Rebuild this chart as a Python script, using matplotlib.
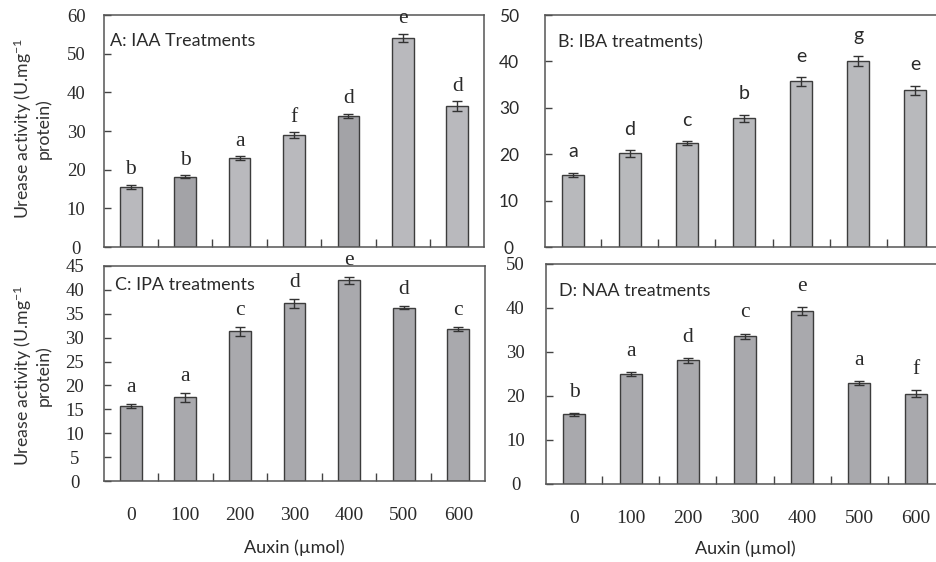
"""Urease activity under four auxin treatments, one bar panel per auxin."""
import matplotlib
matplotlib.use("Agg")
import matplotlib.pyplot as plt  # noqa: E402
import numpy as np               # noqa: E402

plt.rcParams["mathtext.fontset"] = "custom"
plt.rcParams["mathtext.rm"] = "Lato"
plt.rcParams["mathtext.default"] = "regular"

SANS = "Lato"
SERIF = "Liberation Serif"

conc = ["0", "100", "200", "300", "400", "500", "600"]

iaa_mean = [15.6, 18.2, 23.0, 29.0, 33.9, 54.0, 36.5]
iaa_err = [0.5, 0.3, 0.5, 0.7, 0.5, 1.1, 1.2]
iaa_letters = ["b", "b", "a", "f", "d", "e", "d"]

iba_mean = [15.5, 20.2, 22.4, 27.7, 35.7, 40.1, 33.8]
iba_err = [0.5, 0.7, 0.4, 0.8, 0.9, 1.0, 1.0]
iba_letters = ["a", "d", "c", "b", "e", "g", "e"]

ipa_mean = [15.7, 17.5, 31.3, 37.2, 42.0, 36.3, 31.8]
ipa_err = [0.5, 0.9, 1.0, 0.9, 0.8, 0.3, 0.5]
ipa_letters = ["a", "a", "c", "d", "e", "d", "c"]

naa_mean = [15.8, 25.0, 28.1, 33.6, 39.4, 22.9, 20.5]
naa_err = [0.4, 0.5, 0.6, 0.6, 0.9, 0.4, 0.8]
naa_letters = ["b", "a", "d", "c", "e", "a", "f"]

W, H = 936, 562

# panel boxes in pixels: left, right, top, bottom
PANELS = [
    dict(title="A: IAA Treatments", mean=iaa_mean, err=iaa_err, letters=iaa_letters,
         box=(104, 484, 15, 247), ymax=60, ystep=10, tickfont=SERIF, letterfont=SERIF,
         letter_pad=4, ytick_pad=20, colors=["#b9b9bd", "#a3a3a7", "#b9b9bd", "#b9b9bd",
                                              "#a3a3a7", "#b9b9bd", "#b9b9bd"],
         title_xy=(0.016, 0.888), xlabels=False, ylabel=True),
    dict(title="B: IBA treatments)", mean=iba_mean, err=iba_err, letters=iba_letters,
         box=(545, 943, 15, 247), ymax=50, ystep=10, tickfont=SANS, letterfont=SANS,
         letter_pad=9, ytick_pad=26, colors=["#b8b9bc"] * 7,
         title_xy=(0.033, 0.884), xlabels=False, ylabel=False),
    dict(title="C: IPA treatments", mean=ipa_mean, err=ipa_err, letters=ipa_letters,
         box=(104, 485, 266, 481), ymax=45, ystep=5, tickfont=SERIF, letterfont=SERIF,
         letter_pad=5, ytick_pad=21, colors=["#a9a9ad"] * 7,
         title_xy=(0.029, 0.91), xlabels=True, ylabel=True),
    dict(title="D: NAA treatments", mean=naa_mean, err=naa_err, letters=naa_letters,
         box=(546, 944, 264, 484), ymax=50, ystep=10, tickfont=SERIF, letterfont=SERIF,
         letter_pad=8, ytick_pad=22, colors=["#a9a9ad"] * 7,
         title_xy=(0.033, 0.877), xlabels=True, ylabel=False),
]


def draw_panel(fig, p):
    l, r, t, b = p["box"]
    ax = fig.add_axes([l / W, 1 - b / H, (r - l) / W, (b - t) / H])
    x = np.arange(len(conc))
    ax.bar(x, p["mean"], width=0.4, color=p["colors"], edgecolor="#3c3c3c", linewidth=1.0,
           zorder=2)
    ax.errorbar(x, p["mean"], yerr=p["err"], fmt="none", ecolor="#333333", elinewidth=1.0,
                capsize=3.5, capthick=1.0, zorder=3)
    for xi, m, e, lab in zip(x, p["mean"], p["err"], p["letters"]):
        ax.annotate(lab, (xi, m + e), xytext=(0, p["letter_pad"]), textcoords="offset points",
                    ha="center", va="bottom", fontsize=15.5 if p["letterfont"] == SERIF else 14,
                    family=p["letterfont"], color="#2a2a2a")

    ax.set_xlim(-0.49, len(conc) - 0.51)
    ax.set_ylim(0, p["ymax"])
    ax.set_yticks(np.arange(0, p["ymax"] + 1, p["ystep"]))
    ax.set_xticks(x)
    ax.set_xticks(x[:-1] + 0.5, minor=True)
    ax.tick_params(axis="x", which="major", length=0, pad=19, labelsize=14,
                   labelcolor="#2a2a2a")
    ax.tick_params(axis="x", which="minor", direction="in", length=6, width=1.0,
                   color="#444444")
    ax.tick_params(axis="y", direction="in", length=5, width=1.0, color="#444444",
                   pad=p["ytick_pad"], labelsize=13.5 if p["tickfont"] == SERIF else 12.5,
                   labelcolor="#2a2a2a")
    if p["xlabels"]:
        ax.set_xticklabels(conc, family=SERIF)
        ax.set_xlabel("Auxin (µmol)", family=SANS, fontsize=13, color="#2a2a2a")
        ax.xaxis.set_label_coords(0.5, -(0.31 if l < 300 else 0.295))
        ax.xaxis.label.set_va("center")
    else:
        ax.set_xticklabels([])
    for lab in ax.get_yticklabels():
        lab.set_family(p["tickfont"])
        lab.set_ha("center")
    for sp in ax.spines.values():
        sp.set_color("#555555")
        sp.set_linewidth(1.1)

    if p["ylabel"]:
        ax.set_ylabel("Urease activity (U.mg$^{-1}$\nprotein)", family=SANS, fontsize=12.7,
                      color="#333333", linespacing=1.1)
        ax.yaxis.set_label_coords(-(72 / (r - l)), 0.51 if t < 100 else 0.49)
        ax.yaxis.label.set_va("center")

    ax.text(*p["title_xy"], p["title"], transform=ax.transAxes, ha="left", va="center",
            family=SANS, fontsize=12.9, color="#2a2a2a")


fig = plt.figure(figsize=(W / 100, H / 100), dpi=100)
for p in PANELS:
    draw_panel(fig, p)
fig.savefig("out.png", dpi=100)
